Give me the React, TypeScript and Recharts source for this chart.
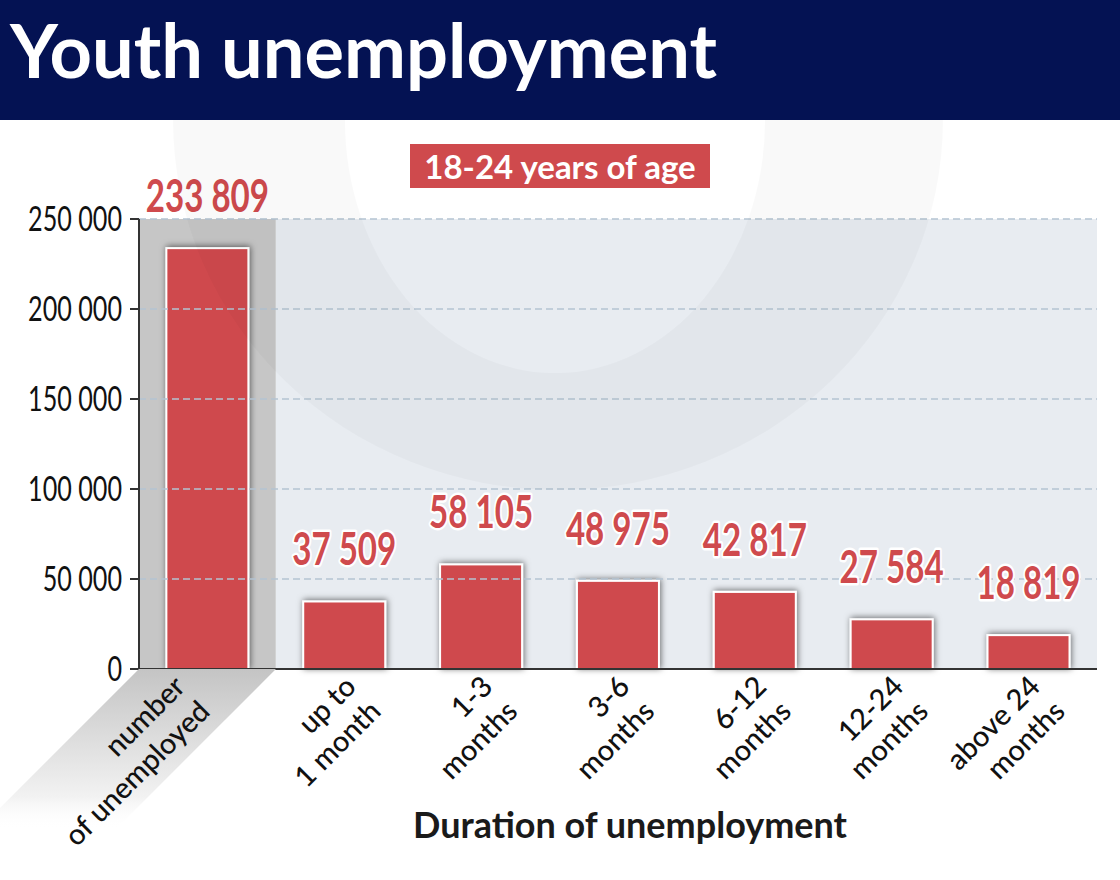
import { BarChart, Bar, XAxis, YAxis, ReferenceArea, ReferenceLine, LabelList } from 'recharts';

const categories = [
  'number\nof unemployed',
  'up to\n1 month',
  '1-3\nmonths',
  '3-6\nmonths',
  '6-12\nmonths',
  '12-24\nmonths',
  'above 24\nmonths',
];
const unemployed = [233809, 37509, 58105, 48975, 42817, 27584, 18819];
const yTicks = [0, 50000, 100000, 150000, 200000, 250000];

const data = categories.map((name, i) => ({ name, value: unemployed[i] }));

const RED = '#cf4a4d';
const fmt = (v: number) => String(v).replace(/\B(?=(\d{3})+(?!\d))/g, ' ');

const YTick = ({ x, y, payload }: any) => (
  <g transform={`translate(${x - 6},${y}) scale(0.74,1)`}>
    <text textAnchor="end" dy="0.36em" fontFamily="Lato" fontSize={34} fill="#111">
      {fmt(payload.value)}
    </text>
  </g>
);

const XTick = ({ x, y, payload, index }: any) => {
  const lines = String(payload.value).split('\n');
  const half = 68.5;
  const shift = index === 0 ? -36 : -2;
  return (
    <g>
      {index === 0 && (
        <polygon
          points={`${x - half},${y - 8} ${x + half},${y - 8} ${x + half - 160},${y + 152} ${x - half - 160},${y + 152}`}
          fill="url(#bandFade)"
        />
      )}
      <g transform={`translate(${x + shift},${y - 4}) rotate(-45)`}>
        <text textAnchor="end" fontFamily="Lato" fontWeight={500} fontSize={29} fill="#111">
          {lines.map((l, i) => (
            <tspan key={i} x={0} dy={i === 0 ? '0.75em' : 35}>
              {l}
            </tspan>
          ))}
        </text>
      </g>
    </g>
  );
};

const ValueLabel = ({ x, y, width, value }: any) => (
  <g transform={`translate(${x + width / 2},${y - 36}) scale(0.72,1)`}>
    <text
      textAnchor="middle"
      fontFamily="Lato"
      fontWeight={700}
      fontSize={46}
      fill={RED}
      stroke="#fff"
      strokeWidth={5}
      strokeLinejoin="round"
      paintOrder="stroke"
    >
      {fmt(value)}
    </text>
  </g>
);

const BarShape = ({ x, y, width, height }: any) => (
  <rect x={x} y={y} width={width} height={height} fill={RED} stroke="#fff" strokeWidth={2} filter="url(#barShadow)" />
);

export default function App() {
  return (
    <div style={{ position: 'absolute', left: 0, top: 0, width: 1120, height: 880, background: '#fff', overflow: 'hidden' }}>
      <svg width={0} height={0} style={{ position: 'absolute' }}>
        <defs>
          <filter id="barShadow" x="-30%" y="-30%" width="160%" height="160%">
            <feDropShadow dx={1} dy={-1} stdDeviation={3} floodColor="#000" floodOpacity={0.55} />
          </filter>
          <linearGradient id="bandFade" x1="0" y1="0" x2="0" y2="1">
            <stop offset="0%" stopColor="#c4c4c4" />
            <stop offset="80%" stopColor="#f2f2f2" />
            <stop offset="100%" stopColor="#ffffff" stopOpacity={0} />
          </linearGradient>
        </defs>
      </svg>

      <div style={{ position: 'absolute', left: 0, top: 0, width: 1120, height: 120, background: '#041253' }} />
      <div
        style={{
          position: 'absolute', left: 10, top: 5, color: '#fff', fontFamily: 'Lato', fontWeight: 700,
          fontSize: 74, lineHeight: '90px', whiteSpace: 'nowrap',
        }}
      >
        Youth unemployment
      </div>

      <div style={{ position: 'absolute', left: 0, top: 0 }}>
        <BarChart width={1120} height={880} data={data} margin={{ top: 219, right: 23, bottom: 181, left: 0 }} barCategoryGap="20%">
          <ReferenceArea x1={categories[0]} x2={categories[0]} y1={0} y2={250000} fill="#c6c6c6" fillOpacity={1} stroke="none" ifOverflow="visible" />
          <ReferenceArea x1={categories[1]} x2={categories[6]} y1={0} y2={250000} fill="#e8ecf1" fillOpacity={1} stroke="none" ifOverflow="visible" />
          {yTicks.slice(1).map((t) => (
            <ReferenceLine key={t} y={t} stroke="#b4c3d2" strokeWidth={1.5} strokeDasharray="7 4" />
          ))}
          <XAxis
            dataKey="name"
            height={30}
            interval={0}
            tick={<XTick />}
            tickLine={false}
            axisLine={{ stroke: '#333', strokeWidth: 2 }}
          />
          <YAxis
            width={139}
            domain={[0, 250000]}
            ticks={yTicks}
            tick={<YTick />}
            tickSize={9}
            tickLine={{ stroke: '#333', strokeWidth: 2 }}
            axisLine={{ stroke: '#333', strokeWidth: 2 }}
          />
          <Bar dataKey="value" shape={<BarShape />} isAnimationActive={false}>
            <LabelList dataKey="value" content={<ValueLabel />} />
          </Bar>
        </BarChart>
      </div>

      <div
        style={{
          position: 'absolute', left: 410, top: 144, width: 300, height: 44, background: RED, color: '#fff',
          fontFamily: 'Lato', fontWeight: 700, fontSize: 33, lineHeight: '44px', textAlign: 'center', whiteSpace: 'nowrap',
        }}
      >
        18-24 years of age
      </div>

      <div
        style={{
          position: 'absolute', left: 330, top: 803, width: 600, textAlign: 'center', fontFamily: 'Lato',
          fontWeight: 700, fontSize: 36, lineHeight: '42px', color: '#1a1a1a',
        }}
      >
        Duration of unemployment
      </div>

      <svg width={1120} height={880} style={{ position: 'absolute', left: 0, top: 0, pointerEvents: 'none' }}>
        <path
          d="M 173 120 A 385 370 0 0 0 943 120 Z M 345 120 A 210 253 0 0 0 765 120 Z"
          fill="#000"
          fillOpacity={0.022}
          fillRule="evenodd"
        />
      </svg>
    </div>
  );
}
